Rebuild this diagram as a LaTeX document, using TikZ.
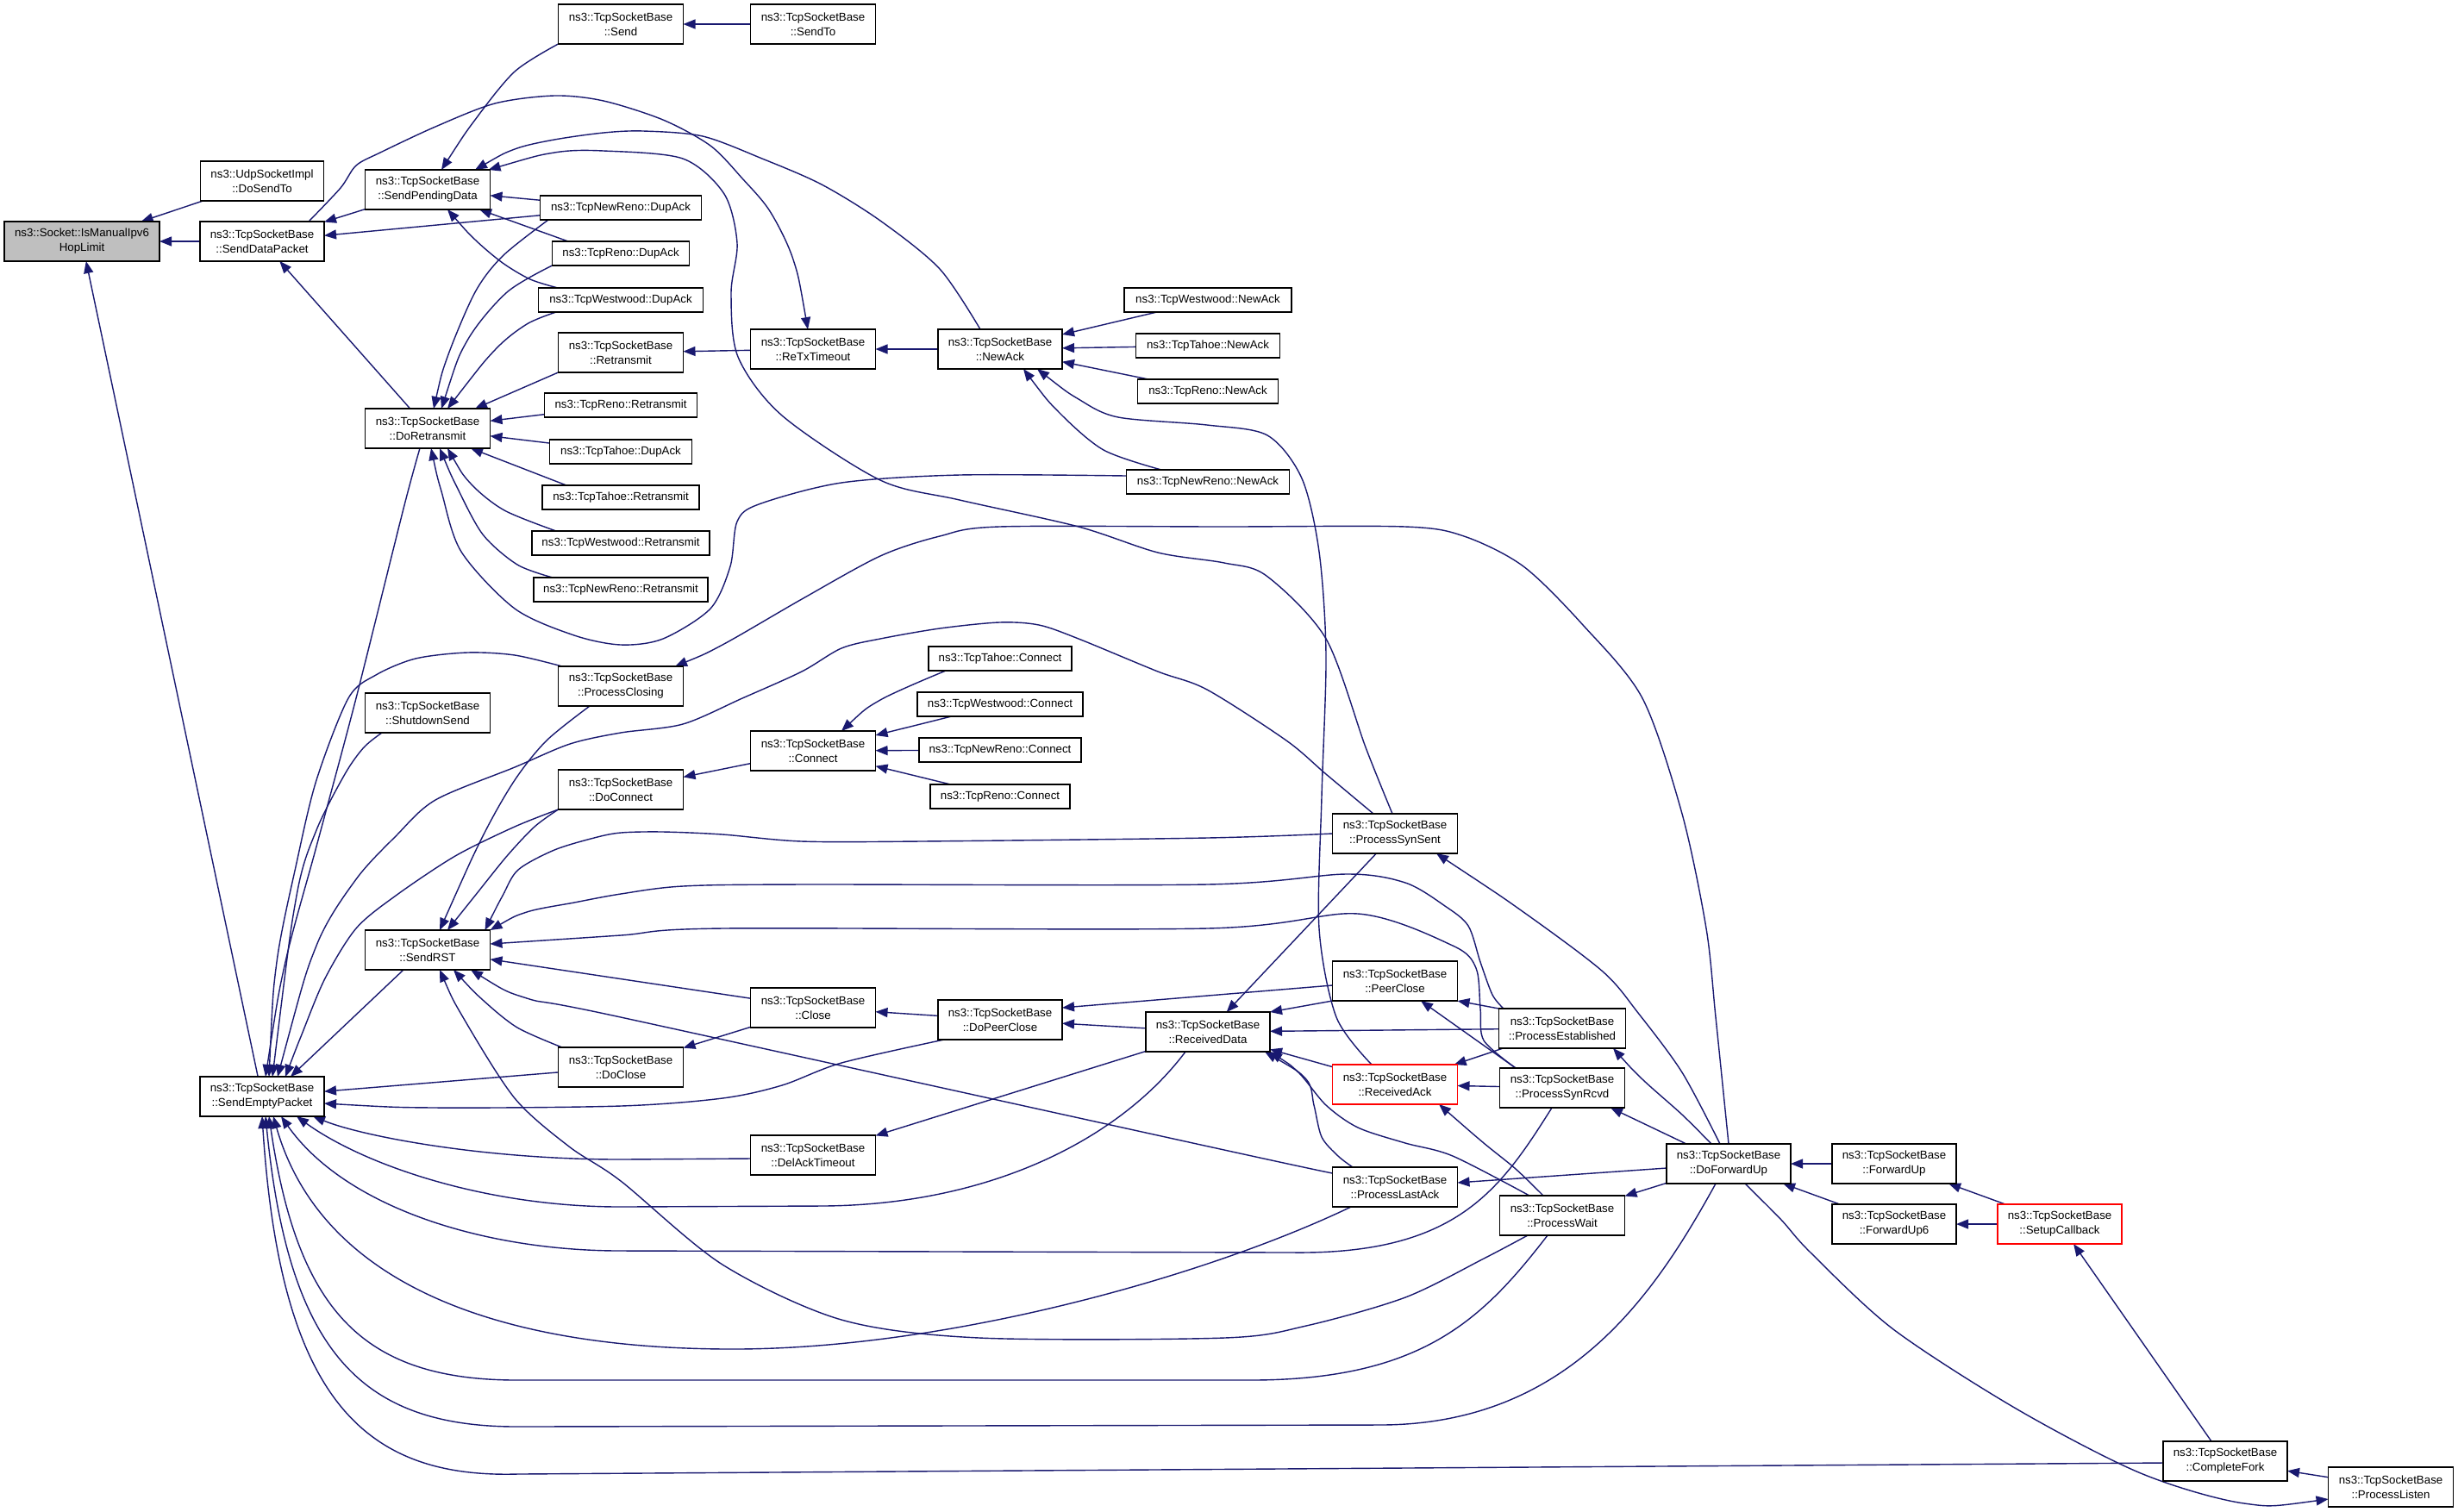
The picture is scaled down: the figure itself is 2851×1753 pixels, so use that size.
\documentclass[tikz,border=0pt]{standalone}
\usepackage{fontspec}
\setmainfont{Liberation Sans}
\usetikzlibrary{arrows.meta}
\definecolor{edgec}{RGB}{25,25,112}
\definecolor{redb}{RGB}{255,0,0}
\definecolor{grayf}{RGB}{191,191,191}
\pgfdeclarelayer{bg}
\pgfdeclarelayer{edges}
\pgfsetlayers{bg,edges,main}
\tikzset{
  box/.style={draw=black, line width=0.6pt, fill=white, inner sep=0pt, outer sep=0pt,
    align=center, font=\fontsize{6.65pt}{8.5pt}\selectfont, minimum height=23pt, minimum width=72.5pt},
  one/.style={box, minimum height=14pt},
  redbox/.style={box, draw=redb},
  e/.style={draw=edgec, line width=0.7pt, line join=round, {Triangle[length=7pt,width=5.5pt]}-},
}
\begin{document}
\begin{tikzpicture}[x=0.5pt,y=-0.5pt]
\begin{pgfonlayer}{bg}
\fill[white] (0,0) rectangle (2851,1753);
\end{pgfonlayer}
\useasboundingbox (0,0) rectangle (2851,1753);
% nodes
\node[box, fill=grayf, minimum width=90pt] (im) at (95,280) {ns3::Socket::IsManualIpv6\\HopLimit};
\node[box, minimum width=71.5pt] (ust) at (304,210) {ns3::UdpSocketImpl\\::DoSendTo};
\node[box, minimum width=72pt] (sdp) at (304,280) {ns3::TcpSocketBase\\::SendDataPacket};
\node[box] (spd) at (496,220) {ns3::TcpSocketBase\\::SendPendingData};
\node[box] (drt) at (496,497) {ns3::TcpSocketBase\\::DoRetransmit};
\node[box] (snd) at (720,28) {ns3::TcpSocketBase\\::Send};
\node[box] (sto) at (943,28) {ns3::TcpSocketBase\\::SendTo};
\node[one, minimum width=93.5pt] (nrda) at (720,241) {ns3::TcpNewReno::DupAck};
\node[one, minimum width=79.5pt] (rda) at (720,294) {ns3::TcpReno::DupAck};
\node[one, minimum width=95.5pt] (wda) at (720,348) {ns3::TcpWestwood::DupAck};
\node[box] (rtx) at (720,409) {ns3::TcpSocketBase\\::Retransmit};
\node[one, minimum width=88.5pt] (rrt) at (720,470) {ns3::TcpReno::Retransmit};
\node[one, minimum width=82.5pt] (tda) at (720,524) {ns3::TcpTahoe::DupAck};
\node[one, minimum width=91pt] (trt) at (720,577) {ns3::TcpTahoe::Retransmit};
\node[one, minimum width=103pt] (wrt) at (720,630) {ns3::TcpWestwood::Retransmit};
\node[one, minimum width=101pt] (nrrt) at (720,684) {ns3::TcpNewReno::Retransmit};
\node[box] (pcl) at (720,796) {ns3::TcpSocketBase\\::ProcessClosing};
\node[box] (shs) at (496,827) {ns3::TcpSocketBase\\::ShutdownSend};
\node[box] (dcn) at (720,916) {ns3::TcpSocketBase\\::DoConnect};
\node[box] (rst) at (496,1102) {ns3::TcpSocketBase\\::SendRST};
\node[box, minimum width=72pt] (sep) at (304,1272) {ns3::TcpSocketBase\\::SendEmptyPacket};
\node[box] (dcl) at (720,1238) {ns3::TcpSocketBase\\::DoClose};
\node[box] (rtt) at (943,405) {ns3::TcpSocketBase\\::ReTxTimeout};
\node[box, minimum width=72pt] (nak) at (1160,405) {ns3::TcpSocketBase\\::NewAck};
\node[one, minimum width=97pt] (wna) at (1401,348) {ns3::TcpWestwood::NewAck};
\node[one, minimum width=83.5pt] (tna) at (1401,401) {ns3::TcpTahoe::NewAck};
\node[one, minimum width=81.5pt] (rna) at (1401,454) {ns3::TcpReno::NewAck};
\node[one, minimum width=94.5pt] (nrna) at (1401,559) {ns3::TcpNewReno::NewAck};
\node[one, minimum width=83pt] (tcn) at (1160,764) {ns3::TcpTahoe::Connect};
\node[one, minimum width=96pt] (wcn) at (1160,817) {ns3::TcpWestwood::Connect};
\node[one, minimum width=94pt] (nrcn) at (1160,870) {ns3::TcpNewReno::Connect};
\node[one, minimum width=81pt] (rcn) at (1160,924) {ns3::TcpReno::Connect};
\node[box] (con) at (943,871) {ns3::TcpSocketBase\\::Connect};
\node[box] (cls) at (943,1169) {ns3::TcpSocketBase\\::Close};
\node[box, minimum width=72pt] (dpc) at (1160,1183) {ns3::TcpSocketBase\\::DoPeerClose};
\node[box] (dat) at (943,1340) {ns3::TcpSocketBase\\::DelAckTimeout};
\node[box, minimum width=72pt] (rcd) at (1401,1197) {ns3::TcpSocketBase\\::ReceivedData};
\node[box] (pss) at (1618,967) {ns3::TcpSocketBase\\::ProcessSynSent};
\node[box] (pcs) at (1618,1138) {ns3::TcpSocketBase\\::PeerClose};
\node[box, minimum width=73.5pt] (pes) at (1812,1193) {ns3::TcpSocketBase\\::ProcessEstablished};
\node[redbox] (rak) at (1618,1258) {ns3::TcpSocketBase\\::ReceivedAck};
\node[box] (psr) at (1812,1262) {ns3::TcpSocketBase\\::ProcessSynRcvd};
\node[box] (pla) at (1618,1377) {ns3::TcpSocketBase\\::ProcessLastAck};
\node[box] (pwt) at (1812,1410) {ns3::TcpSocketBase\\::ProcessWait};
\node[box, minimum width=72pt] (dfu) at (2005,1350) {ns3::TcpSocketBase\\::DoForwardUp};
\node[box, minimum width=72pt] (fu) at (2197,1350) {ns3::TcpSocketBase\\::ForwardUp};
\node[box, minimum width=72pt] (fu6) at (2197,1420) {ns3::TcpSocketBase\\::ForwardUp6};
\node[redbox, minimum width=72pt] (scb) at (2389,1420) {ns3::TcpSocketBase\\::SetupCallback};
\node[box, minimum width=72pt] (cfk) at (2581,1695) {ns3::TcpSocketBase\\::CompleteFork};
\node[box] (pls) at (2773,1725) {ns3::TcpSocketBase\\::ProcessListen};
% edges
\begin{pgfonlayer}{edges}
\draw[e] (im) -- (ust);
\draw[e] (im) -- (sdp);
\draw[e] (im) -- (sep);
\draw[e] (sdp) -- (spd);
\draw[e] (sdp) -- (nrda);
\draw[e] (sdp) -- (drt);
\draw[e] plot[smooth] coordinates {([xshift=-3pt]rtt.north) (920,301) (893,245) (861,207) (824,169) (769,139) (700,117) (643,111) (574,120) (505,147) (441,177) (413,192) (395,218) ([xshift=27pt]sdp.north)};
\draw[e] (spd) -- (nrda);
\draw[e] ([xshift=30pt]spd.south) -- ([xshift=-30.5pt]rda.north);
\draw[e] plot[smooth] coordinates {([xshift=11.5pt]spd.south) (551,278) (583,305) (615,324) ([xshift=-36.5pt]wda.north)};
\draw[e] plot[smooth] coordinates {([xshift=8pt]spd.north) (551,139) (597,83) (snd.south west)};
\draw[e] (snd) -- (sto);
\draw[e] plot[smooth] coordinates {([xshift=27.5pt]spd.north) (597,173) (643,162) (700,154) (746,152) (815,158) (884,184) (953,214) (1021,256) (1090,312) ([xshift=-11.5pt]nak.north)};
\draw[e] plot[smooth] coordinates {([xshift=-1pt]spd.north east) (643,177) (700,175) (792,184) (840,225) (855,282) (848,340) (856,414) (907,482) (1021,557) (1113,580) (1251,611) (1343,641) (1420,653) (1469,668) (1538,741) (1584,867) ([xshift=-1.5pt]pss.north)};
\draw[e] plot[smooth] coordinates {([xshift=3.5pt]drt.north) (519,414) (551,339) (583,297) ([xshift=-42pt]nrda.south)};
\draw[e] plot[smooth] coordinates {([xshift=8pt]drt.north) (542,395) (588,339) (rda.south west)};
\draw[e] plot[smooth] coordinates {([xshift=11.5pt]drt.north) (574,406) (611,376) ([xshift=-37.5pt]wda.south)};
\draw[e] ([xshift=27.5pt]drt.north) -- (rtx.south west);
\draw[e] (drt) -- (rrt);
\draw[e] (drt) -- (tda);
\draw[e] ([xshift=25pt]drt.south) -- ([xshift=-31.5pt]trt.north);
\draw[e] plot[smooth] coordinates {([xshift=11.5pt]drt.south) (546,561) (585,592) ([xshift=-37.5pt]wrt.north)};
\draw[e] plot[smooth] coordinates {([xshift=7pt]drt.south) (530,565) (560,620) (600,655) ([xshift=-39.5pt]nrrt.north)};
\draw[e] plot[smooth] coordinates {([xshift=2pt]drt.south) (512,570) (535,640) (597,706) (666,737) (720,748) (769,741) (824,706) (847,657) (855,605) (880,585) (976,560) (1113,551) ([yshift=3.5pt]nrna.west)};
\draw[e] (rtx) -- (rtt);
\draw[e] (rtt) -- (nak);
\draw[e] (nak) -- (wna);
\draw[e] (nak) -- (tna);
\draw[e] (nak) -- (rna);
\draw[e] plot[smooth] coordinates {([xshift=13.5pt]nak.south) (1228,478) (1280,522) ([xshift=-27pt]nrna.north)};
\draw[e] plot[smooth] coordinates {([xshift=21.5pt]nak.south) (1251,463) (1297,484) (1400,493) (1470,505) (1510,555) (1530,640) (1538,760) (1533,924) (1530,1077) (1550,1180) ([xshift=-13.5pt]rak.north)};
\draw[e] plot[smooth] coordinates {([xshift=2pt]sep.north) (331,1116) (367,982) (413,810) (468,590) ([xshift=-4.5pt]drt.south)};
\draw[e] plot[smooth] coordinates {([xshift=4pt]sep.north) (321,1116) (344,1001) (367,905) (404,810) (436,783) (482,764) (542,757) (597,760) ([xshift=-34pt]pcl.north)};
\draw[e] plot[smooth] coordinates {([xshift=6pt]sep.north) (344,1039) (367,963) (400,898) (422,867) ([xshift=-26.5pt]shs.south)};
\draw[e] plot[smooth] coordinates {([xshift=9pt]sep.north) (367,1097) (413,1020) (459,970) (505,928) (597,890) (661,863) (720,850) (792,840) (861,810) (930,779) (976,752) (1021,741) (1090,729) (1159,722) (1205,725) (1251,741) (1343,779) (1400,800) (1492,859) (1538,898) ([xshift=-12.5pt]pss.north)};
\draw[e] plot[smooth] coordinates {([xshift=13.5pt]sep.north) (350,1200) (377,1135) (413,1077) (459,1039) (528,993) (597,959) (dcn.south west)};
\draw[e] plot[smooth] coordinates {([xshift=11.5pt]rst.north) (551,1039) (588,993) (620,959) (dcn.south west)};
\draw[e] plot[smooth] coordinates {([xshift=7pt]rst.north) (560,970) (597,905) (634,859) ([xshift=-18pt]pcl.south)};
\draw[e] ([xshift=16.5pt]sep.north) -- ([xshift=-14pt]rst.south);
\draw[e] plot[smooth] coordinates {([xshift=-3pt]rst.north east) (583,1039) (601,1009) (643,986) (689,972) (720,966) (769,965) (838,968) (930,976) (1067,976) (1400,972) (pss.west)};
\draw[e] plot[smooth] coordinates {(rst.north east) (611,1058) (666,1047) (720,1037) (792,1028) (930,1026) (1400,1026) (1561,1014) (1630,1024) (1676,1051) (1703,1074) (1717,1116) (1731,1154) ([xshift=-34pt]pes.north)};
\draw[e] plot[smooth] coordinates {([yshift=3.5pt]rst.east) (720,1085) (838,1077) (1400,1077) (1575,1060) (1685,1097) (1712,1123) (1717,1170) (1721,1207) ([xshift=-27pt]psr.north)};
\draw[e] (rst) -- (cls);
\draw[e] plot[smooth] coordinates {([xshift=25pt]rst.south) (611,1158) (720,1180) (1420,1334) ([yshift=8pt]pla.west)};
\draw[e] plot[smooth] coordinates {([xshift=15pt]rst.south) (560,1160) (600,1192) ([xshift=-34pt]dcl.north)};
\draw[e] plot[smooth] coordinates {([xshift=7pt]rst.south) (537,1180) (597,1274) (660,1330) (720,1370) (838,1467) (976,1531) (1136,1552) (1420,1552) (1515,1538) (1630,1505) (1721,1460) ([xshift=-20pt]pwt.south)};
\draw[e] (sep) -- (dcl);
\draw[e] plot[smooth] coordinates {([yshift=-4pt]sep.east) (505,1285) (720,1283) (838,1274) (907,1259) (976,1233) ([xshift=-32.5pt]dpc.south)};
\draw[e] ([xshift=29.5pt]sep.south) .. controls (420,1318) and (560,1345) .. (720,1345) -- ([yshift=-2pt]dat.west);
\draw[e] ([xshift=20pt]sep.south) .. controls (420,1350) and (560,1400) .. (720,1400) -- (953,1399) .. controls (1150,1398) and (1300,1320) .. ([xshift=-13pt]rcd.south);
\draw[e] ([xshift=11pt]sep.south) .. controls (400,1400) and (560,1451) .. (720,1451) -- (1500,1453) .. controls (1690,1455) and (1740,1380) .. ([xshift=-6pt]psr.south);
\draw[e] ([xshift=6.5pt]sep.south) .. controls (370,1480) and (560,1565) .. (850,1565) .. controls (1100,1565) and (1400,1480) .. ([xshift=-25.5pt]pla.south);
\draw[e] ([xshift=4pt]sep.south) .. controls (345,1520) and (420,1601) .. (600,1601) -- (1450,1601) .. controls (1650,1601) and (1720,1530) .. ([xshift=-8.5pt]pwt.south);
\draw[e] ([xshift=2pt]sep.south) .. controls (335,1570) and (420,1655) .. (600,1655) -- (1600,1653) .. controls (1820,1653) and (1920,1500) .. ([xshift=-7.5pt]dfu.south);
\draw[e] (sep.south) .. controls (325,1620) and (420,1715) .. (600,1710) -- ([yshift=-1pt]cfk.west);
\draw[e] plot[smooth] coordinates {([xshift=31.5pt]pcl.north) (838,748) (930,695) (1021,645) (1090,622) (1159,611) (1420,611) (1630,611) (1698,622) (1767,657) (1836,725) (1905,810) (1951,944) (1979,1077) (1990,1180) (dfu.north)};
\draw[e] plot[smooth] coordinates {([xshift=24pt]pss.south) (1767,1058) (1859,1127) (1900,1175) (1951,1244) ([xshift=-5pt]dfu.north)};
\draw[e] (rcd) -- (pss);
\draw[e] ([yshift=7pt]dpc.east) -- ([yshift=-2.5pt]pcs.west);
\draw[e] (rcd.north east) -- (pcs.south west);
\draw[e] (pcs.south east) -- (pes.north west);
\draw[e] ([xshift=15pt]pcs.south) -- ([xshift=-27pt]psr.north);
\draw[e] (rcd) -- (pes);
\draw[e] (rcd) -- (rak);
\draw[e] plot[smooth] coordinates {([xshift=-3pt]rcd.south east) (1515,1252) (1524,1282) (1533,1319) (1552,1341) ([xshift=-24.5pt]pla.north)};
\draw[e] plot[smooth] coordinates {(rcd.south east) (1506,1244) (1538,1282) (1575,1308) (1630,1326) (1685,1341) ([xshift=-19pt]pwt.north)};
\draw[e] (dpc) -- (rcd);
\draw[e] (dat) -- (rcd);
\draw[e] (rak) -- (pes);
\draw[e] (rak) -- (psr);
\draw[e] plot[smooth] coordinates {([xshift=25.5pt]rak.south) (1721,1326) (1758,1356) ([xshift=-11pt]pwt.north)};
\draw[e] plot[smooth] coordinates {([xshift=29.5pt]pes.south) (1905,1252) (1951,1293) ([xshift=-10pt]dfu.north)};
\draw[e] ([xshift=28pt]psr.south) -- ([xshift=-24.5pt]dfu.north);
\draw[e] (pla) -- (dfu);
\draw[e] (pwt) -- (dfu);
\draw[e] (dfu) -- (fu);
\draw[e] (dfu) -- (fu6);
\draw[e] plot[smooth] coordinates {([yshift=-7pt]pls.west) (2603,1744) (2483,1709) (2340,1635) (2196,1542) (2100,1453) (2066,1415) ([xshift=9.5pt]dfu.south)};
\draw[e] (fu) -- (scb);
\draw[e] (fu6) -- (scb);
\draw[e] (scb) -- (cfk);
\draw[e] (cfk) -- (pls);
\draw[e] (cls) -- (dpc);
\draw[e] (dcl) -- (cls);
\draw[e] (dcn) -- (con);
\draw[e] plot[smooth] coordinates {([xshift=16.5pt]con.north) (1021,812) ([xshift=-31.5pt]tcn.south)};
\draw[e] (con) -- (wcn);
\draw[e] (con) -- (nrcn);
\draw[e] (con) -- (rcn);
\end{pgfonlayer}
\end{tikzpicture}
\end{document}
